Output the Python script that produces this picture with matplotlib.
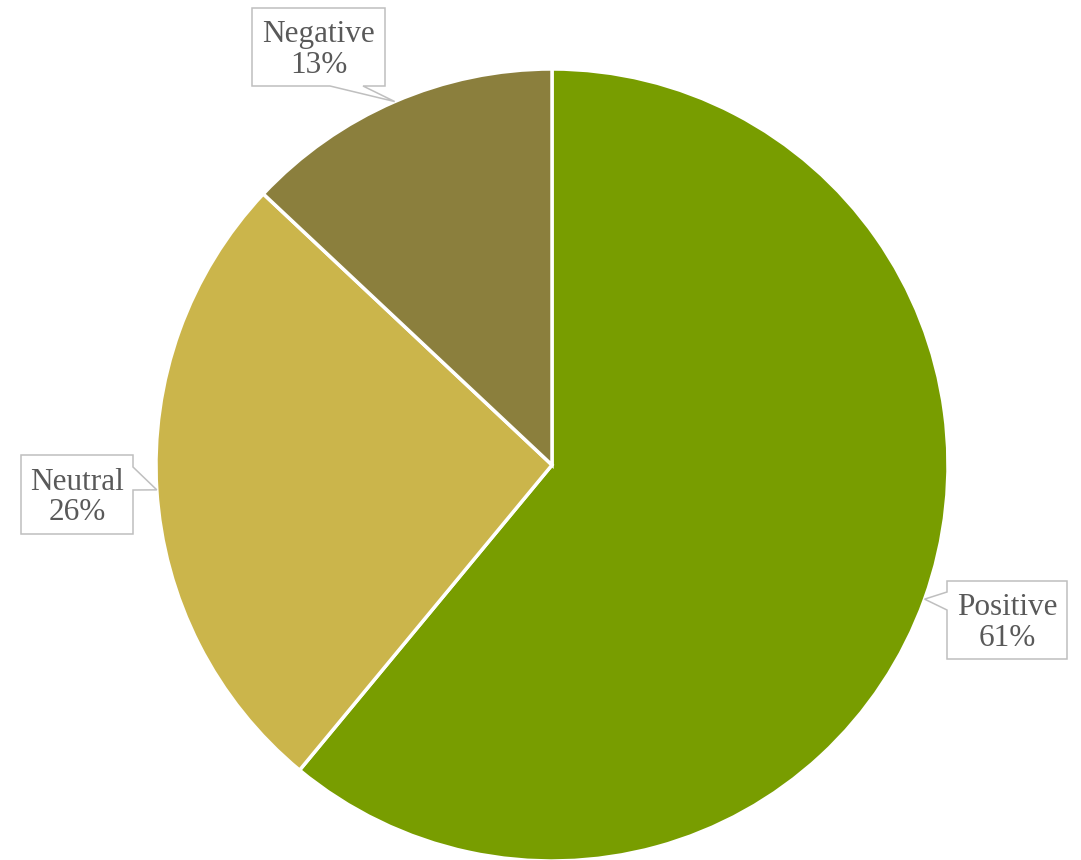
import numpy as np
import matplotlib.pyplot as plt
from matplotlib.patches import Polygon

labels = ['Positive', 'Neutral', 'Negative']
shares = [61, 26, 13]
colors = ['#789D00', '#CBB54B', '#8B7F3D']

W, H = 1081, 860
fig = plt.figure(figsize=(W / 100, H / 100), dpi=100)
ax = fig.add_axes([0, 0, 1, 1])

# pie in pixel-like data units
cx, cy, r = 552, 395, 396
wedges, _ = ax.pie(shares, colors=colors, startangle=90, counterclock=False,
                   center=(cx, cy), radius=r, frame=True,
                   wedgeprops=dict(edgecolor='white', linewidth=2.5))
ax.set_xlim(0, W)
ax.set_ylim(0, H)
ax.set_aspect('equal')
ax.axis('off')

# callout boxes: (x0, x1, y0, y1), side of the pointer, pointer base span
boxes = [((947, 1067, 201, 279), 'left', (250, 268)),
         ((21, 133, 326, 405), 'right', (370, 393)),
         ((252, 385, 774, 852), 'bottom', (330, 363))]

for w, lab, val, (bx, side, span) in zip(wedges, labels, shares, boxes):
    ang = np.deg2rad((w.theta1 + w.theta2) / 2)
    tip = (cx + r * np.cos(ang), cy + r * np.sin(ang))
    x0, x1, y0, y1 = bx
    if side == 'left':
        pts = [(x0, y0), (x1, y0), (x1, y1), (x0, y1),
               (x0, span[1]), tip, (x0, span[0])]
    elif side == 'right':
        pts = [(x0, y0), (x1, y0), (x1, span[0]), tip,
               (x1, span[1]), (x1, y1), (x0, y1)]
    else:
        pts = [(x0, y0), (span[0], y0), tip, (span[1], y0),
               (x1, y0), (x1, y1), (x0, y1)]
    ax.add_patch(Polygon(pts, closed=True, facecolor='white',
                         edgecolor='#BFBFBF', lw=1.1, zorder=3))
    ax.text((x0 + x1) / 2, (y0 + y1) / 2 - 3, f'{lab}\n{val}%',
            ha='center', va='center', fontsize=22.5, linespacing=1.08,
            color='#595959', family='Liberation Serif', zorder=4)

fig.savefig('out.png', dpi=100)
